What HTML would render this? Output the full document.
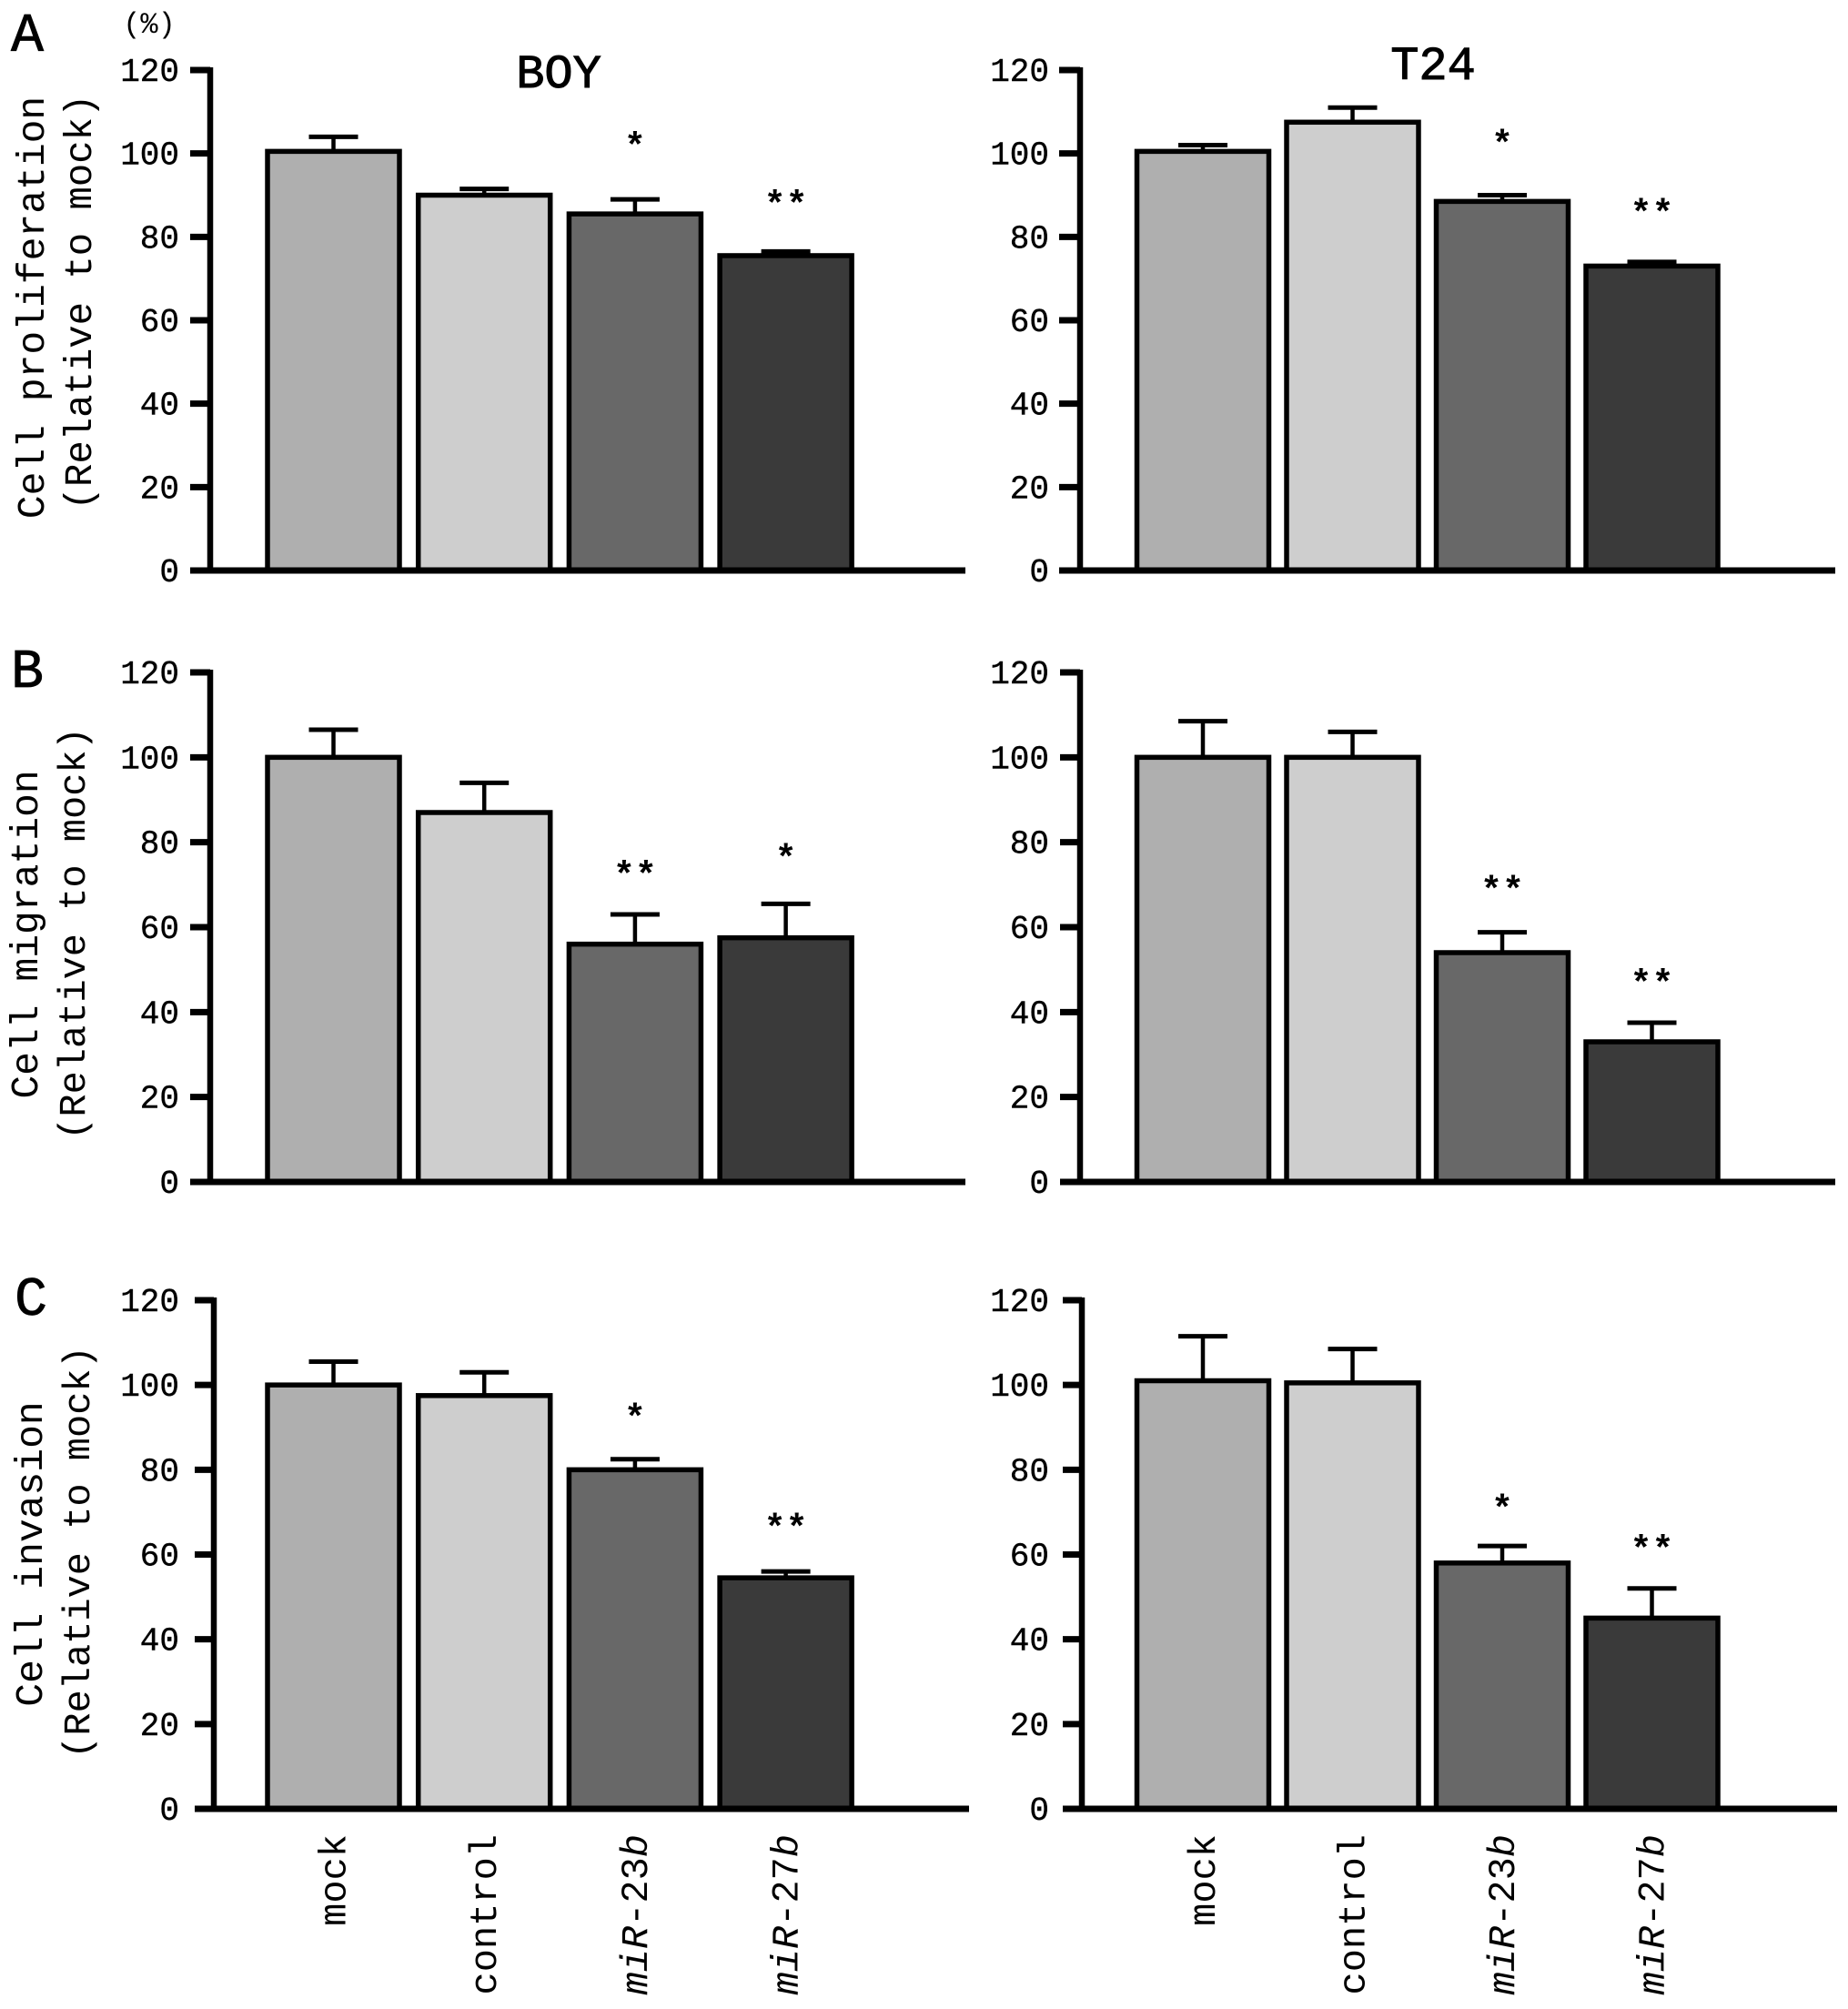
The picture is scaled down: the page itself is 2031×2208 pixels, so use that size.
<!DOCTYPE html>
<html lang="en">
<head>
<meta charset="utf-8">
<title>Cell proliferation, migration and invasion</title>
<style>
html,body{margin:0;padding:0;background:#fff;}
svg{display:block;}
text{font-family:"Liberation Mono","DejaVu Sans Mono",monospace;fill:#000;}
</style>
</head>
<body>
<svg id="chart" xmlns="http://www.w3.org/2000/svg" width="2031" height="2208" viewBox="0 0 2031 2208">
<rect width="2031" height="2208" fill="#ffffff"/>
<g font-size="60" text-anchor="middle" stroke="#000" stroke-width="0.8">
<text x="30" y="56">A</text>
<text x="30" y="755">B</text>
<text x="34" y="1445">C</text>
</g>
<text x="164" y="36" font-size="32" text-anchor="middle">(%)</text>
<g font-size="52" text-anchor="middle" stroke="#000" stroke-width="1">
<text x="614" y="96">BOY</text>
<text x="1575" y="87">T24</text>
</g>
<g text-anchor="middle">
<text font-size="43" transform="translate(48,338) rotate(-90)">Cell proliferation</text>
<text font-size="42.3" transform="translate(100,332) rotate(-90)">(Relative to mock)</text>
<text font-size="43" transform="translate(41,1027) rotate(-90)">Cell migration</text>
<text font-size="42" transform="translate(93,1026) rotate(-90)">(Relative to mock)</text>
<text font-size="43" transform="translate(46,1708) rotate(-90)">Cell invasion</text>
<text font-size="42" transform="translate(98,1706) rotate(-90)">(Relative to mock)</text>
</g>
<g id="plots"></g>
</svg>
<script>
const categories = ["mock", "control", "miR-23b", "miR-27b"];
const tickValues = [0, 20, 40, 60, 80, 100, 120];
const proliferationBoy = [100.5, 90, 85.5, 75.5];
const proliferationBoyErr = [104, 91.5, 89, 76.5];
const proliferationBoyStars = ["", "", "*", "**"];
const proliferationBoyStarLevel = [0, 0, 103, 89];
const proliferationT24 = [100.5, 107.5, 88.5, 73];
const proliferationT24Err = [102, 111, 90, 74];
const proliferationT24Stars = ["", "", "*", "**"];
const proliferationT24StarLevel = [0, 0, 103.5, 87];
const migrationBoy = [100, 87, 56, 57.5];
const migrationBoyErr = [106.5, 94, 63, 65.5];
const migrationBoyStars = ["", "", "**", "*"];
const migrationBoyStarLevel = [0, 0, 73.5, 77.5];
const migrationT24 = [100, 100, 54, 33];
const migrationT24Err = [108.5, 106, 58.8, 37.5];
const migrationT24Stars = ["", "", "**", "**"];
const migrationT24StarLevel = [0, 0, 70, 48];
const invasionBoy = [100, 97.5, 80, 54.5];
const invasionBoyErr = [105.5, 103, 82.5, 56];
const invasionBoyStars = ["", "", "*", "**"];
const invasionBoyStarLevel = [0, 0, 93.5, 67.5];
const invasionT24 = [101, 100.5, 58, 45];
const invasionT24Err = [111.5, 108.5, 62, 52];
const invasionT24Stars = ["", "", "*", "**"];
const invasionT24StarLevel = [0, 0, 72, 62.5];

const fills = ["#afafaf", "#cecece", "#686868", "#3a3a3a"];
const NS = "http://www.w3.org/2000/svg";
const root = document.getElementById("plots");

function make(tag, attrs, parent) {
  const el = document.createElementNS(NS, tag);
  for (const k in attrs) el.setAttribute(k, attrs[k]);
  parent.appendChild(el);
  return el;
}

function drawPanel(p) {
  const g = make("g", {}, root);
  
  
  const y = v => p.y0 + (p.y120 - p.y0) * v / 120;
  const x = i => p.x0 + p.step * i;
  const barW = 145;

  p.values.forEach((v, i) => {
    const cx = x(i);
    const err = make("line", {x1: cx, x2: cx, y1: y(v), y2: y(p.errs[i]), stroke: "#000", "stroke-width": 4.5}, g);
    
    
    const cap = make("line", {x1: cx - 27, x2: cx + 27, y1: y(p.errs[i]), y2: y(p.errs[i]), stroke: "#000", "stroke-width": 5}, g);
    
    
    const bar = make("rect", {x: cx - barW / 2, y: y(v), width: barW, height: y(0) - y(v), fill: fills[i], stroke: "#000", "stroke-width": 5.5}, g);
    
    
    if (p.stars[i]) {
      const s = make("text", {x: cx, y: y(p.starLevels[i]) + 18, "font-size": 40, "text-anchor": "middle", "font-weight": "bold"}, g);
      s.textContent = p.stars[i];
      
      
    }
  });

  const axisY = make("line", {x1: p.ax, x2: p.ax, y1: y(120) - 3, y2: y(0), stroke: "#000", "stroke-width": 6.5}, g);
  
  
  const axisX = make("line", {x1: p.tick, x2: p.xEnd, y1: y(0), y2: y(0), stroke: "#000", "stroke-width": 7}, g);
  
  

  tickValues.forEach(t => {
    const tk = make("line", {x1: p.tick, x2: p.ax, y1: y(t), y2: y(t), stroke: "#000", "stroke-width": 7}, g);
    
    
    const lb = make("text", {x: p.labelX, y: y(t) + 12, "font-size": 36, "text-anchor": "end", stroke: "#000", "stroke-width": 0.4}, g);
    lb.textContent = t;
    
    
  });

  if (p.showCats) {
    categories.forEach((c, i) => {
      const t = make("text", {transform: "translate(" + (x(i) + 13) + "," + p.catTop + ") rotate(-90)", "font-size": 42, "text-anchor": "end"}, g);
      
      
      const m = c.match(/^(miR)(-\d+)(b)$/);
      if (m) {
        make("tspan", {"font-style": "italic"}, t).textContent = m[1];
        make("tspan", {}, t).textContent = m[2];
        make("tspan", {"font-style": "italic"}, t).textContent = m[3];
      } else {
        t.textContent = c;
      }
    });
  }
}

drawPanel({name: "panel-proliferation-boy", values: proliferationBoy, errs: proliferationBoyErr, stars: proliferationBoyStars, starLevels: proliferationBoyStarLevel, y0: 627, y120: 77, ax: 231, tick: 209, xEnd: 1061, x0: 366.5, step: 165.7, labelX: 197});
drawPanel({name: "panel-proliferation-t24", values: proliferationT24, errs: proliferationT24Err, stars: proliferationT24Stars, starLevels: proliferationT24StarLevel, y0: 627, y120: 77, ax: 1187, tick: 1164, xEnd: 2017, x0: 1322, step: 164.5, labelX: 1153});
drawPanel({name: "panel-migration-boy", values: migrationBoy, errs: migrationBoyErr, stars: migrationBoyStars, starLevels: migrationBoyStarLevel, y0: 1299, y120: 739, ax: 231, tick: 209, xEnd: 1061, x0: 366.5, step: 165.7, labelX: 197});
drawPanel({name: "panel-migration-t24", values: migrationT24, errs: migrationT24Err, stars: migrationT24Stars, starLevels: migrationT24StarLevel, y0: 1299, y120: 739, ax: 1187, tick: 1165, xEnd: 2017, x0: 1322, step: 164.5, labelX: 1153});
drawPanel({name: "panel-invasion-boy", values: invasionBoy, errs: invasionBoyErr, stars: invasionBoyStars, starLevels: invasionBoyStarLevel, y0: 1988, y120: 1429, ax: 235, tick: 214, xEnd: 1065, x0: 366.5, step: 165.7, labelX: 197, showCats: true, catTop: 2016});
drawPanel({name: "panel-invasion-t24", values: invasionT24, errs: invasionT24Err, stars: invasionT24Stars, starLevels: invasionT24StarLevel, y0: 1988, y120: 1429, ax: 1189, tick: 1168, xEnd: 2019, x0: 1322, step: 164.5, labelX: 1153, showCats: true, catTop: 2016});
</script>
</body>
</html>
